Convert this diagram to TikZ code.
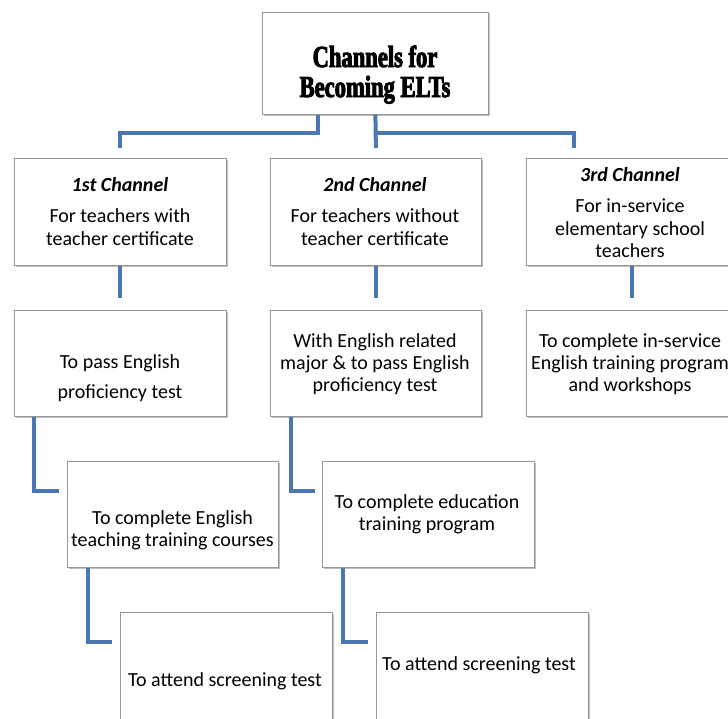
\documentclass[tikz,border=0pt]{standalone}
\usepackage{fontspec}
\setmainfont{Carlito}
\newfontfamily\titlefont{Liberation Serif}[FakeStretch=0.74,BoldFeatures={FakeBold=3}]
\usetikzlibrary{shadows}
\definecolor{boxgray}{RGB}{150,150,150}
\definecolor{lineblue}{RGB}{74,120,178}
\begin{document}
\begin{tikzpicture}[x=1pt,y=-1pt,
  box/.style={draw=boxgray, line width=0.8pt, fill=white, minimum width=212pt,
    minimum height=106pt, anchor=north west, inner sep=0pt,
    drop shadow={shadow xshift=1.5pt, shadow yshift=-2pt, fill=black, opacity=0.25}},
  conn/.style={draw=lineblue, line width=4pt},
  txt/.style={anchor=base, inner sep=0pt, font=\fontsize{20}{23}\selectfont},
  hd/.style={txt, font=\fontsize{20}{23}\selectfont\bfseries\itshape},
  ttl/.style={anchor=base, inner sep=0pt, font=\titlefont\bfseries\fontsize{30.5}{31}\selectfont}]
\clip (0,0) rectangle (728,718);
\fill[white] (0,0) rectangle (728,718);

% boxes
\node[box, minimum width=226pt, minimum height=102pt] (top) at (262,12) {};
\node[box, minimum height=107pt] (c1) at (14,158) {};
\node[box, minimum width=211pt, minimum height=107pt] (c2) at (270,158) {};
\node[box, minimum width=211pt, minimum height=107pt] (c3) at (526,158) {};
\node[box] (p1) at (14,310) {};
\node[box, minimum width=211pt] (w2) at (270,310) {};
\node[box, minimum width=211pt] (p3) at (526,310) {};
\node[box, minimum width=211pt] (crs) at (67,461) {};
\node[box] (edu) at (322,461) {};
\node[box, minimum height=112pt] (s1) at (120,612) {};
\node[box, minimum height=112pt] (s2) at (376,612) {};

% connectors
\draw[conn] ([xshift=-57pt]top.south) -- ++(0,18) -| ([yshift=10pt]c1.north);
\draw[conn] (top.south) -- ([yshift=10pt]c2.north);
\draw[conn] ([yshift=-18pt]top.south) -| ([xshift=-58pt,yshift=10pt]c3.north);
\draw[conn] (c1.south) -- ([yshift=12pt]p1.north);
\draw[conn] (c2.south) -- ([yshift=12pt]w2.north);
\draw[conn] (c3.south) -- ([yshift=12pt]p3.north);
\draw[conn] ([xshift=20pt]p1.south west) |- ([xshift=-8pt,yshift=-30pt]crs.north west);
\draw[conn] ([xshift=21pt]crs.south west) |- ([xshift=-8pt,yshift=-30pt]s1.north west);
\draw[conn] ([xshift=21pt]w2.south west) |- ([xshift=-7pt,yshift=-30pt]edu.north west);
\draw[conn] ([xshift=21pt]edu.south west) |- ([xshift=-8pt,yshift=-30pt]s2.north west);

% texts
\node[ttl] (t1) at (375,67) {Channels for};
\node[ttl] (t2) at (375,97) {Becoming ELTs};

\node[hd]  (c1a) at (120,191) {1st Channel};
\node[txt] (c1b) at (120,222) {For teachers with};
\node[txt] (c1c) at (120,245) {teacher certificate};

\node[hd]  (c2a) at (375,191) {2nd Channel};
\node[txt] (c2b) at (375,222) {For teachers without};
\node[txt] (c2c) at (375,245) {teacher certificate};

\node[hd]  (c3a) at (630,181) {3rd Channel};
\node[txt] (c3b) at (630,212) {For in-service};
\node[txt] (c3c) at (630,235) {elementary school};
\node[txt] (c3d) at (630,257) {teachers};

\node[txt] (p1a) at (120,368) {To pass English};
\node[txt] (p1b) at (120,398) {proficiency test};

\node[txt] (w2a) at (375,347) {With English related};
\node[txt] (w2b) at (375,369) {major \& to pass English};
\node[txt] (w2c) at (375,391) {proficiency test};

\node[txt] (p3a) at (630,347) {To complete in-service};
\node[txt] (p3b) at (630,369) {English training program};
\node[txt] (p3c) at (630,391) {and workshops};

\node[txt] (crsa) at (172.5,524) {To complete English};
\node[txt] (crsb) at (172.5,546) {teaching training courses};

\node[txt] (edua) at (427,508) {To complete education};
\node[txt] (edub) at (427,530) {training program};

\node[txt] (s1a) at (225,686) {To attend screening test};
\node[txt] (s2a) at (479,670) {To attend screening test};
\end{tikzpicture}
\end{document}
